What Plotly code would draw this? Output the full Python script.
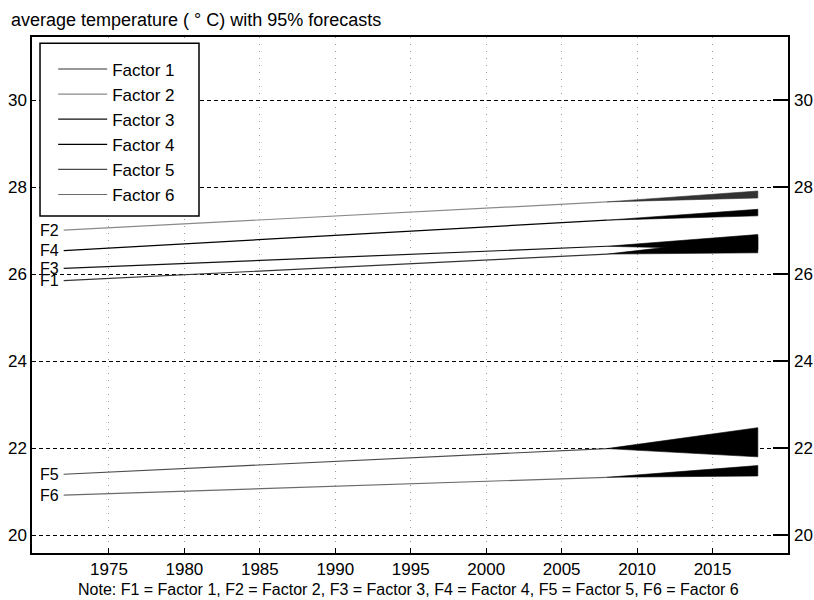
import plotly.graph_objects as go

# Historical trend lines (start and end of the observed period)
hist_years = [1972, 2008]
factor_names = ["Factor 1", "Factor 2", "Factor 3", "Factor 4", "Factor 5", "Factor 6"]
short_names = ["F1", "F2", "F3", "F4", "F5", "F6"]
f1 = [25.85, 26.46]
f2 = [27.01, 27.66]
f3 = [26.13, 26.64]
f4 = [26.54, 27.24]
f5 = [21.40, 21.99]
f6 = [20.92, 21.33]

# 95% forecast bands: start of forecast (end of history) to horizon
fc_years = [2008, 2018]
f1_lo = [26.46, 26.49]
f1_hi = [26.46, 26.86]
f2_lo = [27.66, 27.75]
f2_hi = [27.66, 27.91]
f3_lo = [26.64, 26.56]
f3_hi = [26.64, 26.91]
f4_lo = [27.24, 27.34]
f4_hi = [27.24, 27.49]
f5_lo = [21.99, 21.80]
f5_hi = [21.99, 22.47]
f6_lo = [21.33, 21.36]
f6_hi = [21.33, 21.60]

x_ticks = [1975, 1980, 1985, 1990, 1995, 2000, 2005, 2010, 2015]
y_ticks = [20, 22, 24, 26, 28, 30]

series = [f1, f2, f3, f4, f5, f6]
lows = [f1_lo, f2_lo, f3_lo, f4_lo, f5_lo, f6_lo]
highs = [f1_hi, f2_hi, f3_hi, f4_hi, f5_hi, f6_hi]
line_colors = ["#333333", "#8a8a8a", "#111111", "#000000", "#4a4a4a", "#6a6a6a"]
band_colors = ["#000000", "#333333", "#000000", "#000000", "#000000", "#000000"]

FONT = "Liberation Sans, Arial, sans-serif"

fig = go.Figure()

for name, vals, col in zip(factor_names, series, line_colors):
    fig.add_trace(go.Scatter(
        x=hist_years, y=vals, mode="lines", name=name,
        line=dict(color=col, width=1.2), hoverinfo="skip",
    ))

for lo, hi, col in zip(lows, highs, band_colors):
    fig.add_trace(go.Scatter(
        x=fc_years + fc_years[::-1], y=hi + lo[::-1],
        mode="lines", fill="toself", fillcolor=col,
        line=dict(color=col, width=0.6), showlegend=False, hoverinfo="skip",
    ))

# anchor trace so the right-hand axis is drawn
fig.add_trace(go.Scatter(
    x=[hist_years[0]], y=[f1[0]], yaxis="y2", mode="markers",
    marker=dict(opacity=0), showlegend=False, hoverinfo="skip",
))

# short labels at the start of each line
for lab, vals in zip(short_names, series):
    fig.add_annotation(
        x=hist_years[0], y=vals[0], text=lab, showarrow=False,
        xanchor="right", yanchor="middle", xshift=-3,
        font=dict(family=FONT, size=16, color="black"),
    )

fig.add_annotation(
    x=-0.03, y=1.033, xref="paper", yref="paper",
    text="average temperature ( ° C) with 95% forecasts",
    showarrow=False, xanchor="left", yanchor="middle",
    font=dict(family=FONT, size=18, color="black"),
)
fig.add_annotation(
    x=0.498, y=-0.07, xref="paper", yref="paper",
    text="Note: F1 = Factor 1, F2 = Factor 2, F3 = Factor 3, F4 = Factor 4, F5 = Factor 5, F6 = Factor 6",
    showarrow=False, xanchor="center", yanchor="middle",
    font=dict(family=FONT, size=16, color="black"),
)

# legend frame
fig.add_shape(
    type="rect", xref="paper", yref="paper",
    x0=0.0106, x1=0.2209, y0=0.653, y1=0.988,
    fillcolor="white", line=dict(color="black", width=1.5), layer="above",
)

fig.update_layout(
    width=814, height=600,
    margin=dict(l=32, r=26, t=37, b=47, autoexpand=False),
    paper_bgcolor="white", plot_bgcolor="white",
    font=dict(family=FONT, size=17, color="black"),
    showlegend=True,
    legend=dict(
        x=0.028, y=0.972, xanchor="left", yanchor="top",
        bgcolor="rgba(0,0,0,0)", borderwidth=0,
        font=dict(family=FONT, size=17, color="black"),
        itemwidth=49, tracegroupgap=0,
    ),
    xaxis=dict(
        range=[1969.9, 2020.0], tickvals=x_ticks, automargin=False,
        ticks="inside", ticklen=5, tickwidth=1.2, tickcolor="black",
        showline=True, linecolor="black", linewidth=1.5, mirror=True,
        showgrid=True, gridcolor="#9a9a9a", gridwidth=1, griddash="1px,6px",
        zeroline=False, tickfont=dict(size=17),
    ),
    yaxis=dict(
        range=[19.59, 31.45], tickvals=y_ticks, automargin=False,
        ticks="", showline=True, linecolor="black", linewidth=1.5, mirror=True,
        showgrid=True, gridcolor="black", gridwidth=1, griddash="4px,3px",
        zeroline=False, tickfont=dict(size=17),
    ),
    yaxis2=dict(
        range=[19.59, 31.45], tickvals=y_ticks, overlaying="y", side="right",
        automargin=False,
        ticks="inside", ticklen=15, tickwidth=1.5, tickcolor="black",
        ticklabelstandoff=5,
        showline=False, showgrid=False, zeroline=False, tickfont=dict(size=17),
    ),
)

fig.write_html("out.html")
